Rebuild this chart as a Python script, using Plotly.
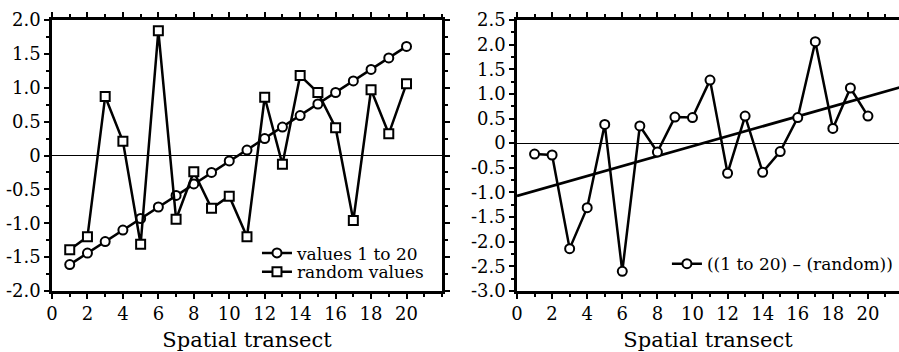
import plotly.graph_objects as go

# ---- data ----
x_pos = list(range(1, 21))
values_1_to_20 = [-1.61, -1.44, -1.27, -1.10, -0.93, -0.76, -0.59, -0.42, -0.25, -0.08,
                  0.08, 0.25, 0.42, 0.59, 0.76, 0.93, 1.10, 1.27, 1.44, 1.61]
random_values = [-1.39, -1.20, 0.87, 0.21, -1.31, 1.84, -0.94, -0.24, -0.78, -0.60,
                 -1.20, 0.86, -0.13, 1.18, 0.93, 0.41, -0.96, 0.97, 0.32, 1.06]
difference = [-0.22, -0.24, -2.14, -1.31, 0.38, -2.60, 0.35, -0.18, 0.53, 0.52,
              1.28, -0.61, 0.55, -0.59, -0.17, 0.52, 2.06, 0.30, 1.12, 0.55]
fit_x = [0, 22]
fit_y = [-1.07, 1.15]

left_ticks = [0, 2, 4, 6, 8, 10, 12, 14, 16, 18, 20]
left_yticks = [-2.0, -1.5, -1.0, -0.5, 0, 0.5, 1.0, 1.5, 2.0]
left_ylabels = ["-2.0", "-1.5", "-1.0", "-0.5", "0", "0.5", "1.0", "1.5", "2.0"]
right_yticks = [-3.0, -2.5, -2.0, -1.5, -1.0, -0.5, 0, 0.5, 1.0, 1.5, 2.0, 2.5]
right_ylabels = ["-3.0", "-2.5", "-2.0", "-1.5", "-1.0", "-0.5", "0", "0.5", "1.0", "1.5", "2.0", "2.5"]

FONT = "DejaVu Serif"
BLACK = "black"

fig = go.Figure()

mk = dict(color="white", size=9, line=dict(color=BLACK, width=2))
LW = 2.5

fig.add_trace(go.Scatter(x=x_pos, y=values_1_to_20, mode="lines+markers", name="values 1 to 20",
                         line=dict(color=BLACK, width=LW), marker=dict(symbol="circle", **mk),
                         xaxis="x", yaxis="y", legend="legend"))
fig.add_trace(go.Scatter(x=x_pos, y=random_values, mode="lines+markers", name="random values",
                         line=dict(color=BLACK, width=LW), marker=dict(symbol="square", **mk),
                         xaxis="x", yaxis="y", legend="legend3"))
fig.add_trace(go.Scatter(x=fit_x, y=fit_y, mode="lines", showlegend=False,
                         line=dict(color=BLACK, width=2.8), xaxis="x2", yaxis="y2"))
fig.add_trace(go.Scatter(x=x_pos, y=difference, mode="lines+markers", name="((1 to 20) \u2013 (random))",
                         line=dict(color=BLACK, width=LW), marker=dict(symbol="circle", **mk),
                         xaxis="x2", yaxis="y2", legend="legend2"))

tickfont = dict(family=FONT, size=18, color=BLACK)
common_x = dict(showgrid=False, zeroline=False, showline=True, linecolor=BLACK, linewidth=2.5,
                ticks="outside", ticklen=5, tickwidth=2, tickcolor=BLACK, mirror="ticks",
                tickvals=left_ticks, tickfont=tickfont,
                minor=dict(dtick=1, ticks="outside", ticklen=3, tickwidth=2, tickcolor=BLACK),
                title=dict(text="Spatial transect", font=dict(family=FONT, size=21, color=BLACK), standoff=13))
common_y = dict(showgrid=False, zeroline=True, zerolinecolor=BLACK, zerolinewidth=1.2,
                showline=True, linecolor=BLACK, linewidth=2.5,
                ticks="outside", ticklen=5, tickwidth=2, tickcolor=BLACK, tickfont=tickfont,
                minor=dict(dtick=0.25, ticks="outside", ticklen=3, tickwidth=2, tickcolor=BLACK))

legfont = dict(family=FONT, size=17, color=BLACK)
fig.update_layout(
    width=899, height=352,
    margin=dict(l=52, r=0, t=20, b=59),
    paper_bgcolor="white", plot_bgcolor="white",
    xaxis=dict(domain=[0, 0.4604], range=[0, 22], anchor="y", **common_x),
    yaxis=dict(domain=[0, 1], range=[-2, 2], anchor="x", tickvals=left_yticks, ticktext=left_ylabels,
               mirror="ticks", **common_y),
    xaxis2=dict(domain=[0.549, 1.0], range=[0, 21.77], anchor="y2", **common_x),
    yaxis2=dict(domain=[0, 1], range=[-3, 2.5], anchor="x2", tickvals=right_yticks, ticktext=right_ylabels,
                mirror=False, **common_y),
    legend=dict(x=0.242, y=0.139, xanchor="left", yanchor="middle", bgcolor="rgba(0,0,0,0)",
                font=legfont, itemwidth=30),
    legend3=dict(x=0.242, y=0.0696, xanchor="left", yanchor="middle", bgcolor="rgba(0,0,0,0)",
                 font=legfont, itemwidth=30),
    legend2=dict(x=0.726, y=0.099, xanchor="left", yanchor="middle", bgcolor="rgba(0,0,0,0)",
                 font=legfont, itemwidth=30),
    showlegend=True,
)

fig.write_html("out.html")
